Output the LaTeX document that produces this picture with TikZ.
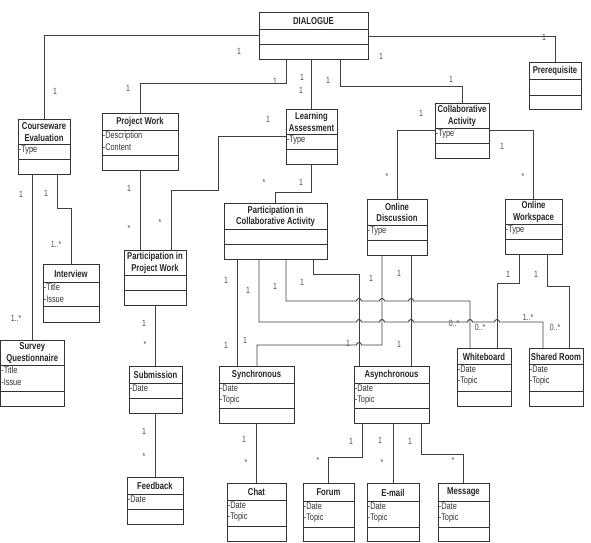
\documentclass[tikz,border=0pt]{standalone}
\usepackage{fontspec}
\setmainfont{Liberation Sans}[FakeStretch=0.77]

% UML class: name, x1, y1, x2, y2, title rule, attribute rule, title, attributes
\newcommand{\umlclass}[9]{%
  \node[box, minimum width={#4pt-#2pt}, minimum height={#5pt-#3pt}] (#1) at (#2,#3) {};
  \draw[sep] (#2,#6) -- (#4,#6) (#2,#7) -- (#4,#7);
  \node[ttl] (#1-t) at ({(#2+#4)/2},{(#3+#6)/2+0.5}) {#8};
  \node[att] (#1-a) at (#2+0.6,#6+1.5) {#9};
}

\begin{document}
\begin{tikzpicture}[x=1pt,y=-1pt,
  box/.style={draw=black!80, line width=1pt, inner sep=0pt, outer sep=0pt, anchor=north west},
  sep/.style={draw=black!80, line width=1pt},
  ttl/.style={inner sep=0pt, align=center, font=\fontsize{10}{11.5}\selectfont\bfseries, text=black!85},
  att/.style={inner sep=0pt, align=left, anchor=north west, font=\fontsize{9.6}{11.5}\selectfont, text=black!80},
  lbl/.style={inner sep=0pt, font=\fontsize{9}{10}\selectfont, text=black!70},
  conn/.style={draw=black!75, line width=0.9pt},
]
\useasboundingbox (0,0) rectangle (591,542);

% classes
\umlclass{dlg}{259}{12}{368}{59}{29}{44}{DIALOGUE}{}
\umlclass{ce}{18}{119}{70}{174}{144}{159}{Courseware\\Evaluation}{-Type}
\umlclass{pw}{102}{113}{178}{170}{130}{155}{Project Work}{-Description\\-Content}
\umlclass{la}{286}{109}{337}{164}{134}{149}{Learning\\Assessment}{-Type}
\umlclass{ca}{435}{103}{489}{158}{128}{143}{Collaborative\\Activity}{-Type}
\umlclass{pre}{529}{62}{581}{109}{79}{95}{Prerequisite}{}
\umlclass{iv}{43}{264}{99}{322}{282}{306}{Interview}{-Title\\-Issue}
\umlclass{sq}{0.5}{340}{64}{406}{365}{391}{Survey\\Questionnaire}{-Title\\-Issue}
\umlclass{ppw}{124}{250}{186}{305}{275}{290}{Participation in\\Project Work}{}
\umlclass{pca}{224}{203}{327}{259}{229}{244}{Participation in\\Collaborative Activity}{}
\umlclass{od}{367}{199}{427}{255}{225}{240}{Online\\Discussion}{-Type}
\umlclass{ow}{505}{199}{562}{254}{224}{239}{Online\\Workspace}{-Type}
\umlclass{sub}{129}{366}{182}{413}{383}{398}{Submission}{-Date}
\umlclass{syn}{219}{366}{294}{423}{383}{408}{Synchronous}{-Date\\-Topic}
\umlclass{asy}{354}{366}{429}{423}{383}{408}{Asynchronous}{-Date\\-Topic}
\umlclass{wb}{457}{348}{511}{406}{364}{391}{Whiteboard}{-Date\\-Topic}
\umlclass{sr}{529}{348}{583}{406}{364}{391}{Shared Room}{-Date\\-Topic}
\umlclass{fb}{127}{477}{183}{524}{494}{509}{Feedback}{-Date}
\umlclass{chat}{227}{483}{286}{541}{500}{526}{Chat}{-Date\\-Topic}
\umlclass{forum}{303}{483}{354}{541}{501}{527}{Forum}{-Date\\-Topic}
\umlclass{email}{367}{483}{419}{541}{501}{527}{E-mail}{-Date\\-Topic}
\umlclass{msg}{438}{483}{489}{541}{501}{527}{Message}{-Date\\-Topic}

% associations from DIALOGUE
\draw[conn] (dlg.west |- 0,35) -| (ce.north);
\draw[conn] (dlg.south -| 286,0) |- (pw.north |- 0,83) -- (pw.north);
\draw[conn] (dlg.south -| la.north) -- (la.north);
\draw[conn] (dlg.south -| 340,0) |- (ca.north |- 0,86) -- (ca.north);
\draw[conn] (dlg.east |- 0,36) -| (pre.north);

% courseware evaluation
\draw[conn] (ce.south -| 32,0) -- (sq.north -| 32,0);
\draw[conn] (ce.south -| 57,0) |- (iv.north |- 0,208) -- (iv.north);

% project work
\draw[conn] (pw.south -| 140,0) -- (ppw.north -| 140,0);
\draw[conn] (la.west |- 0,136) -| (218,190) -| (ppw.north -| 171,0);
\draw[conn] (ppw.south) -- (sub.north -| ppw.south);
\draw[conn] (sub.south) -- (fb.north -| sub.south);

% collaborative activity
\draw[conn] (ca.west |- 0,130) -| (od.north);
\draw[conn] (ca.east |- 0,130) -| (ow.north);
\draw[conn] (la.south) |- (pca.north |- 0,192) -- (pca.north);

% participation in collaborative activity
\draw[conn] (pca.south -| 237,0) -- (syn.north -| 237,0);
\draw[conn] (pca.south -| 313,0) |- (359,274) -- (asy.north -| 359,0);
\draw[conn] (pca.south -| 286,0) |- (356.5,301)
  arc[start angle=180,end angle=360,radius=2.5] -- (379.5,301)
  arc[start angle=180,end angle=360,radius=2.5] -- (408.5,301)
  arc[start angle=180,end angle=360,radius=2.5] -- (470,301) -- (wb.north -| 470,0);
\draw[conn] (pca.south -| 259,0) |- (356.5,322)
  arc[start angle=180,end angle=360,radius=2.5] -- (379.5,322)
  arc[start angle=180,end angle=360,radius=2.5] -- (408.5,322)
  arc[start angle=180,end angle=360,radius=2.5] -- (467.5,322)
  arc[start angle=180,end angle=360,radius=2.5] -- (494.5,322)
  arc[start angle=180,end angle=360,radius=2.5] -- (543,322) -- (sr.north -| 543,0);

% online discussion
\draw[conn] (od.south -| 382,0) |- (361.5,345)
  arc[start angle=0,end angle=-180,radius=2.5] -- (257,345) -- (syn.north -| 257,0);
\draw[conn] (od.south -| 411,0) -- (asy.north -| 411,0);

% online workspace
\draw[conn] (ow.south -| 519,0) |- (497,283) -- (wb.north -| 497,0);
\draw[conn] (ow.south -| 547,0) |- (569,286) -- (sr.north -| 569,0);

% synchronous / asynchronous
\draw[conn] (syn.south) -- (chat.north);
\draw[conn] (asy.south -| 362,0) |- (forum.north |- 0,457) -- (forum.north);
\draw[conn] (asy.south -| email.north) -- (email.north);
\draw[conn] (asy.south -| 421,0) |- (msg.north |- 0,454) -- (msg.north);

% multiplicities
\node[lbl] (m1) at (239,51) {1};
\node[lbl] (m2) at (55,91) {1};
\node[lbl] (m3) at (275,81) {1};
\node[lbl] (m4) at (128,88) {1};
\node[lbl] (m5) at (302,77) {1};
\node[lbl] (m6) at (301,90) {1};
\node[lbl] (m7) at (328,80) {1};
\node[lbl] (m8) at (451,79) {1};
\node[lbl] (m9) at (381,56) {1};
\node[lbl] (m10) at (544,37) {1};
\node[lbl] (m11) at (268,119) {1};
\node[lbl] (m12) at (160,222) {*};
\node[lbl] (m13) at (129,188) {1};
\node[lbl] (m14) at (129,228) {*};
\node[lbl] (m15) at (21,194) {1};
\node[lbl] (m16) at (16,318) {1..*};
\node[lbl] (m17) at (46,193) {1};
\node[lbl] (m18) at (56,244) {1..*};
\node[lbl] (m19) at (421,113) {1};
\node[lbl] (m20) at (387,176) {*};
\node[lbl] (m21) at (502,146) {1};
\node[lbl] (m22) at (523,176) {*};
\node[lbl] (m23) at (301,182) {1};
\node[lbl] (m24) at (264,182) {*};
\node[lbl] (m25) at (144,323) {1};
\node[lbl] (m26) at (145,344) {*};
\node[lbl] (m27) at (144,431) {1};
\node[lbl] (m28) at (144,456) {*};
\node[lbl] (m29) at (244,439) {1};
\node[lbl] (m30) at (246,462) {*};
\node[lbl] (m31) at (351,441) {1};
\node[lbl] (m32) at (318,460) {*};
\node[lbl] (m33) at (380,440) {1};
\node[lbl] (m34) at (382,462) {*};
\node[lbl] (m35) at (410,441) {1};
\node[lbl] (m36) at (453,460) {*};
\node[lbl] (m37) at (226,280) {1};
\node[lbl] (m38) at (226,345) {1};
\node[lbl] (m39) at (248,290) {1};
\node[lbl] (m40) at (528,317) {1..*};
\node[lbl] (m41) at (275,286) {1};
\node[lbl] (m42) at (454,323) {0..*};
\node[lbl] (m43) at (302,282) {1};
\node[lbl] (m44) at (348,343) {1};
\node[lbl] (m45) at (371,278) {1};
\node[lbl] (m46) at (245,340) {1};
\node[lbl] (m47) at (399,273) {1};
\node[lbl] (m48) at (399,344) {1};
\node[lbl] (m49) at (508,274) {1};
\node[lbl] (m50) at (480,327) {0..*};
\node[lbl] (m51) at (536,274) {1};
\node[lbl] (m52) at (555,327) {0..*};
\end{tikzpicture}
\end{document}
